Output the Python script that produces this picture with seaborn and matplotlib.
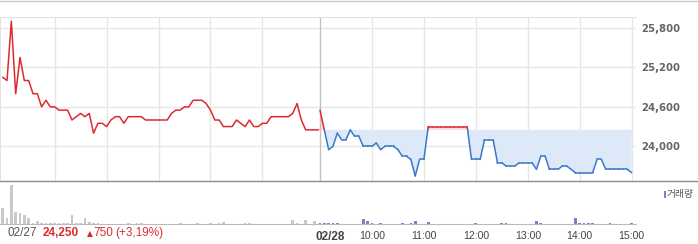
import numpy as np
import pandas as pd
import matplotlib
matplotlib.use("Agg")
import matplotlib.pyplot as plt
import seaborn as sns

# ---------------- data ----------------
day1_price = [25050, 25000, 25900, 24800, 25350, 25000, 25000, 24800, 24800, 24600,
              24700, 24600, 24600, 24550, 24550, 24550, 24400, 24450, 24500, 24450,
              24500, 24200, 24350, 24350, 24300, 24400, 24450, 24450, 24350, 24450,
              24450, 24450, 24450, 24400, 24400, 24400, 24400, 24400, 24400, 24500,
              24550, 24550, 24600, 24600, 24700, 24700, 24700, 24650, 24550, 24400,
              24400, 24300, 24300, 24300, 24400, 24350, 24300, 24400, 24300, 24300,
              24350, 24350, 24450, 24450, 24450, 24450, 24450, 24500, 24650, 24400,
              24250, 24250, 24250, 24250]
day2_price = [24550, 24250, 23950, 24000, 24200, 24100, 24100, 24250, 24150, 24150,
              24000, 24000, 24000, 24050, 23950, 24000, 24000, 24000, 23950, 23850,
              23850, 23800, 23550, 23800, 23800, 24300, 24300, 24300, 24300, 24300,
              24300, 24300, 24300, 24300, 24300, 23800, 23800, 23800, 24100, 24100,
              24100, 23750, 23750, 23700, 23700, 23700, 23750, 23750, 23750, 23750,
              23650, 23850, 23850, 23650, 23650, 23650, 23700, 23700, 23650, 23600,
              23600, 23600, 23600, 23600, 23800, 23800, 23650, 23650, 23650, 23650,
              23650, 23650, 23600]
day1_volume = [16700, 6000, 39000, 12000, 11300, 9000, 6300, 1700, 3300, 1300,
               1000, 1000, 1000, 1000, 1000, 1000, 9300, 1000, 1000, 6300,
               2000, 1300, 1000, 800, 800, 800, 800, 800, 800, 1700,
               800, 1000, 1000, 800, 800, 800, 800, 800, 800, 800,
               800, 1300, 800, 800, 800, 1300, 800, 800, 1700, 800,
               1700, 2300, 800, 800, 800, 800, 1000, 1000, 800, 800,
               800, 800, 800, 800, 800, 800, 800, 4300, 1000, 800,
               4000, 800, 3300, 800]
day2_volume = [1000, 1000, 1000, 1000, 1000, 800, 800, 800, 800, 800,
               5000, 3700, 1000, 800, 1700, 800, 800, 800, 800, 1700,
               800, 1700, 3300, 800, 800, 2000, 800, 800, 800, 800,
               800, 800, 800, 800, 800, 800, 1700, 800, 800, 800,
               800, 800, 1000, 1000, 800, 800, 800, 800, 800, 800,
               3300, 1000, 800, 800, 800, 800, 800, 800, 800, 6700,
               1000, 1000, 1000, 1000, 800, 800, 800, 1000, 800, 800,
               800, 800, 1700]
prev_close = 24250
price_ticks = [24000, 24600, 25200, 25800]
time_labels = ["10:00", "11:00", "12:00", "13:00", "14:00", "15:00"]
day1_label = "02/27"
day2_label = "02/28"
close_text = "24,250"
change_text = "750"
pct_text = "(+3,19%)"
volume_label = "거래량"

# ---------------- styling ----------------
RED = "#dd2a30"
BLUE = "#3c78c8"
BLUE_FILL = "#dde9f9"
RED_FILL = "#fadada"
GRID = "#e6e6e6"
GRAY_BAR = "#c8c8cd"
PURPLE = "#8a7cc4"

sns.set_style("white")
plt.rcParams["font.family"] = ["Liberation Sans", "DejaVu Sans"]

W, H = 698, 244
fig = plt.figure(figsize=(W / 100, H / 100), dpi=100)

def frac(x0, y0, x1, y1):
    return [x0 / W, 1 - y1 / H, (x1 - x0) / W, (y1 - y0) / H]

ax1 = fig.add_axes(frac(0, 17, 636, 181))
ax2 = fig.add_axes(frac(0, 181, 636, 224.3))

n1 = len(day1_price)
x1 = np.arange(n1, dtype=float)
day2_start = n1 - 1 + 0.3
x2 = day2_start + np.arange(len(day2_price), dtype=float)
xlim = (-0.62, 146.3)

# --- price panel ---
p2 = np.array(day2_price, dtype=float)
ax1.fill_between(x2, p2, prev_close, where=p2 <= prev_close, interpolate=True,
                 color=BLUE_FILL, lw=0, zorder=1)
ax1.fill_between(x2, p2, prev_close, where=p2 >= prev_close, interpolate=True,
                 color=RED_FILL, lw=0, zorder=1)

df1 = pd.DataFrame({"x": x1, "price": day1_price})
sns.lineplot(data=df1, x="x", y="price", color=RED, lw=1.1, ax=ax1, zorder=4)

# split day-2 line into red (above previous close) and blue (below) pieces
rows = []
seg = 0
for i in range(len(p2) - 1):
    xa, xb, ya, yb = x2[i], x2[i + 1], p2[i], p2[i + 1]
    da, db = ya - prev_close, yb - prev_close
    if da * db < 0:
        t = da / (da - db)
        xc = xa + t * (xb - xa)
        pieces = [((xa, ya), (xc, prev_close), "up" if da > 0 else "down"),
                  ((xc, prev_close), (xb, yb), "up" if db > 0 else "down")]
    else:
        pieces = [((xa, ya), (xb, yb), "up" if max(da, db) > 0 else "down")]
    for (pa, pb, d) in pieces:
        rows.append({"x": pa[0], "price": pa[1], "seg": seg, "dir": d})
        rows.append({"x": pb[0], "price": pb[1], "seg": seg, "dir": d})
        seg += 1
df2 = pd.DataFrame(rows)
sns.lineplot(data=df2, x="x", y="price", hue="dir", units="seg", estimator=None,
             palette={"up": RED, "down": BLUE}, lw=1.1, ax=ax1, legend=False,
             zorder=4, sort=False)

vgrid = [12, 24, 36, 48, 60] + [day2_start + 12 * k for k in range(1, 7)]
for v in vgrid:
    ax1.axvline(v, color=GRID, lw=1, zorder=0)
ax1.axvline(day2_start, color="#c2c2c2", lw=1, zorder=2)
for t in price_ticks:
    ax1.axhline(t, color=GRID, lw=1, zorder=0)

ax1.set_xlim(*xlim)
ax1.set_ylim(23473, 25965)
ax1.set_xticks([])
ax1.yaxis.tick_right()
ax1.set_yticks(price_ticks)
ax1.set_yticklabels([f"{t:,}" for t in price_ticks])
ax1.tick_params(axis="y", length=0, pad=3.6, labelsize=7.3, labelcolor="#666666")
for lab in ax1.get_yticklabels():
    lab.set_fontfamily(["DejaVu Sans"])
    lab.set_fontweight("bold")
ax1.set_xlabel("")
ax1.set_ylabel("")
for s in ["right", "bottom"]:
    ax1.spines[s].set_visible(False)
ax1.spines["top"].set_color("#e2e2e2")
ax1.spines["left"].set_color("#e2e2e2")

# --- volume panel ---
dv1 = pd.DataFrame({"x": x1, "vol": day1_volume})
dv2 = pd.DataFrame({"x": x2, "vol": day2_volume})
sns.barplot(data=dv1, x="x", y="vol", native_scale=True, color=GRAY_BAR,
            width=0.62, errorbar=None, ax=ax2, saturation=1, linewidth=0)
sns.barplot(data=dv2, x="x", y="vol", native_scale=True, color=PURPLE,
            width=0.62, errorbar=None, ax=ax2, saturation=1, linewidth=0)
ax2.set_xlim(*xlim)
ax2.set_ylim(0, 43300)
ax2.set_yticks([])
ax2.set_xlabel("")
ax2.set_ylabel("")
tick_pos = [day2_start] + [day2_start + 12 * k for k in range(1, 7)]
ax2.set_xticks(tick_pos)
ax2.set_xticklabels([""] + time_labels)
ax2.tick_params(axis="x", length=3, width=0.8, color="#888888", pad=2,
                labelsize=7.6, labelcolor="#444444")
for s in ["top", "right", "left"]:
    ax2.spines[s].set_visible(False)
ax2.spines["bottom"].set_color("#bbbbbb")

# separator lines / frame
fig.add_artist(plt.Line2D([0, 1], [1 - 181 / H, 1 - 181 / H], color="#8c8c8c", lw=1))
fig.add_artist(plt.Line2D([0, 1], [1 - 0.5 / H, 1 - 0.5 / H], color="#cccccc", lw=1))

def ft(x, y, s, **kw):
    fig.text(x / W, 1 - y / H, s, va="center", **kw)

ft(7, 233, day1_label, fontsize=8.5, color="#555555")
ft(43, 233, close_text, fontsize=8.5, color=RED, fontweight="bold")
ft(86.5, 233.5, "▲", fontsize=5.5, color=RED, family=["DejaVu Sans"])
ft(93, 233, change_text, fontsize=8.5, color=RED)
ft(115, 233, pct_text, fontsize=8.5, color=RED)
ft(315, 237.5, day2_label, fontsize=8.5, color="#444444", fontweight="bold")

fig.add_artist(plt.Rectangle((663.5 / W, 1 - 197.5 / H), 2.5 / W, 6.5 / H,
                             color=PURPLE, lw=0))
ft(667, 194, volume_label, fontsize=7, color="#555555",
   family=["Noto Sans CJK KR", "DejaVu Sans"])

fig.savefig("out.png", dpi=100)
